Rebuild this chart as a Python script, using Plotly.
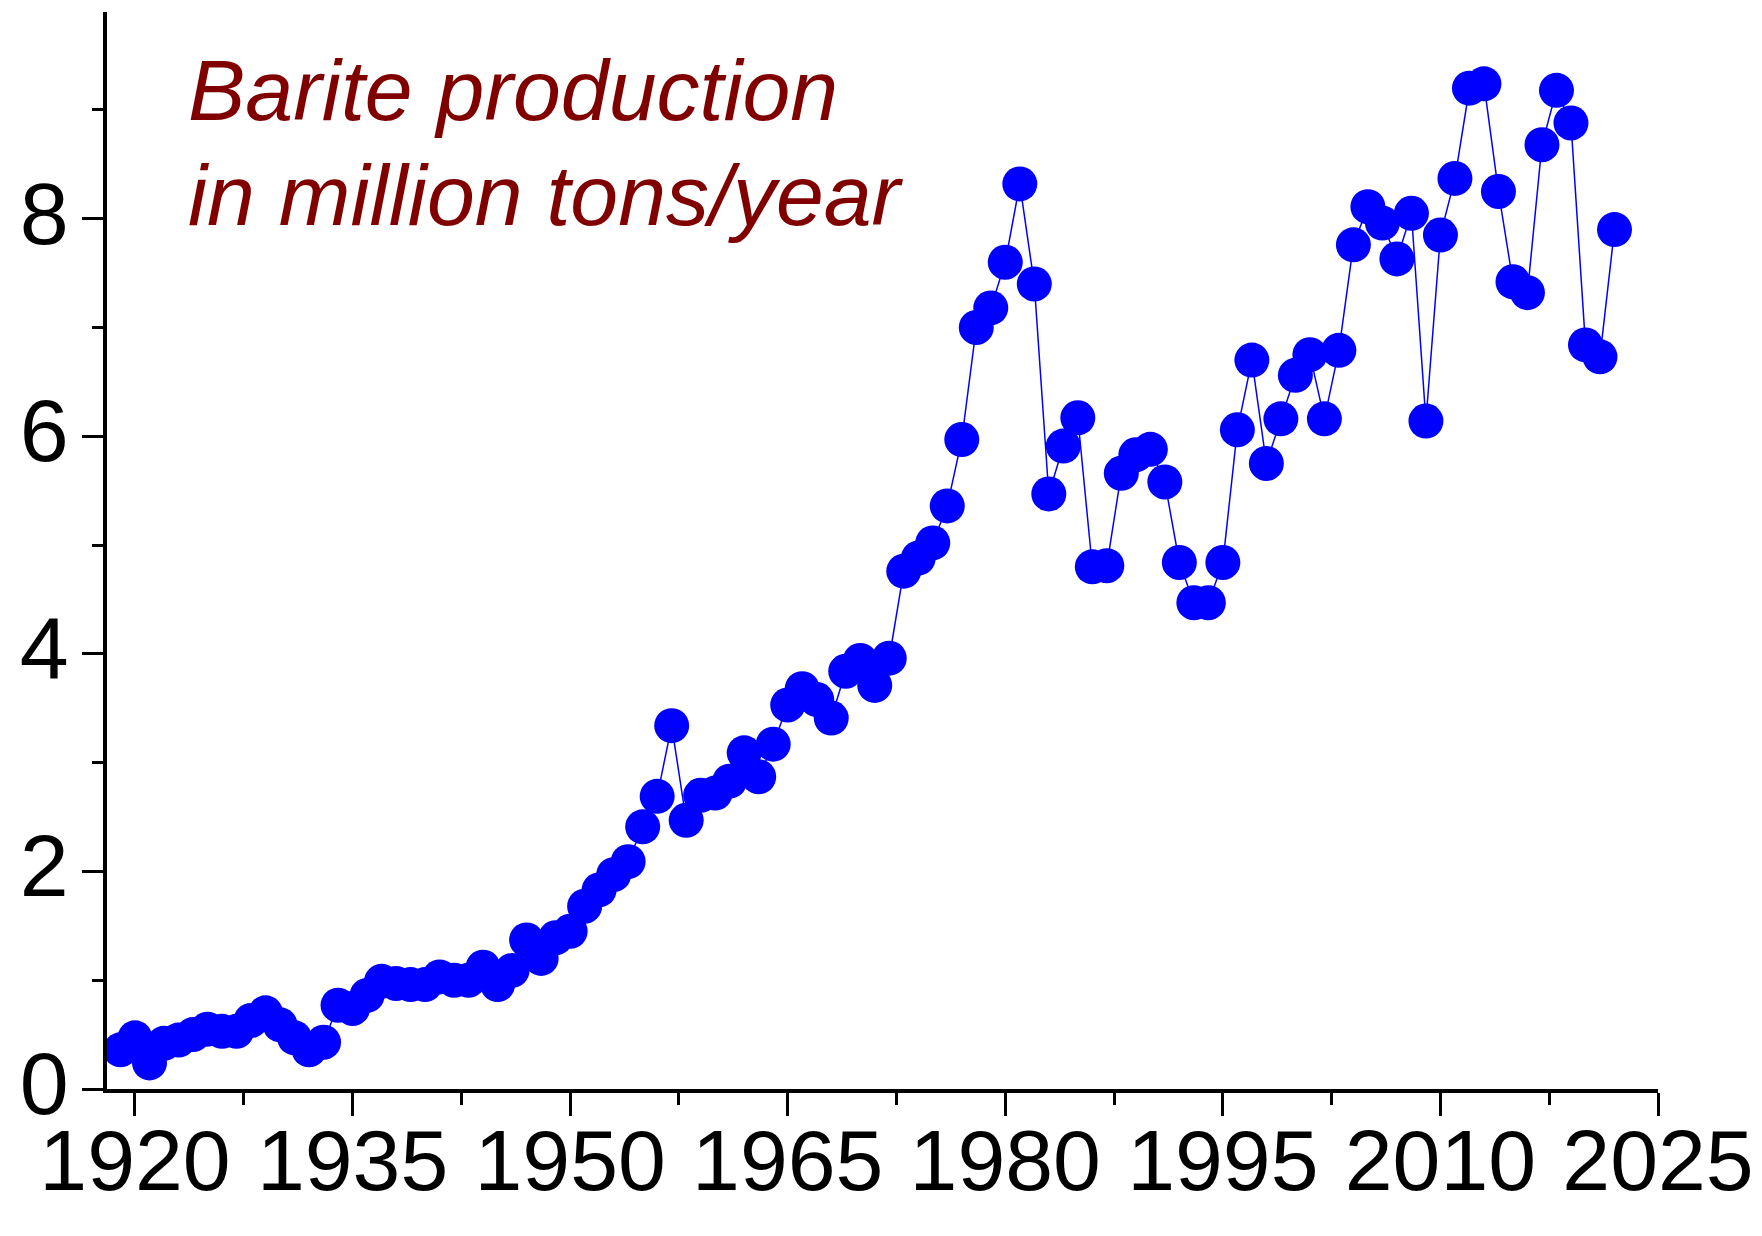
import plotly.graph_objects as go

# barite production, million tons per year
years = list(range(1919, 2023))
production = [
    0.36, 0.47, 0.24, 0.42, 0.45, 0.50, 0.55, 0.53, 0.53, 0.63,   # 1919-1928
    0.70, 0.59, 0.47, 0.36, 0.43, 0.77, 0.74, 0.86, 0.99, 0.97,   # 1929-1938
    0.96, 0.96, 1.03, 1.00, 1.00, 1.12, 0.96, 1.09, 1.37, 1.20,   # 1939-1948
    1.39, 1.45, 1.68, 1.83, 1.97, 2.09, 2.41, 2.69, 3.34, 2.47,   # 1949-1958
    2.70, 2.72, 2.83, 3.09, 2.87, 3.17, 3.53, 3.68, 3.58, 3.41,   # 1959-1968
    3.84, 3.94, 3.71, 3.96, 4.76, 4.88, 5.02, 5.36, 5.97, 7.00,   # 1969-1978
    7.18, 7.60, 8.32, 7.40, 5.47, 5.91, 6.17, 4.80, 4.81, 5.66,   # 1979-1988
    5.83, 5.88, 5.58, 4.84, 4.47, 4.47, 4.84, 6.06, 6.70, 5.75,   # 1989-1998
    6.16, 6.56, 6.75, 6.16, 6.79, 7.76, 8.11, 7.96, 7.63, 8.05,   # 1999-2008
    6.14, 7.85, 8.37, 9.20, 9.24, 8.25, 7.42, 7.32, 8.68, 9.18,   # 2009-2018
    8.88, 6.84, 6.73, 7.90,                                       # 2019-2022
]

title_lines = ["Barite production", "in million tons/year"]

font = "Liberation Sans, Arial, sans-serif"

fig = go.Figure()
fig.add_trace(go.Scatter(
    x=years, y=production, mode="lines+markers",
    line=dict(color="#0000ff", width=1.5),
    marker=dict(color="#0000ff", size=35, line=dict(width=0)),
    showlegend=False,
))

fig.add_annotation(text="<i>%s</i>" % title_lines[0], xref="paper", yref="paper",
                   x=0.051, y=0.9277, xanchor="left", yanchor="middle", showarrow=False,
                   font=dict(family=font, size=86, color="#800000"))
fig.add_annotation(text="<i>%s</i>" % title_lines[1], xref="paper", yref="paper",
                   x=0.051, y=0.8297, xanchor="left", yanchor="middle", showarrow=False,
                   font=dict(family=font, size=86, color="#800000"))

fig.update_xaxes(
    range=[1918.07, 2025], tick0=1920, dtick=15,
    showline=True, linecolor="black", linewidth=3.5,
    ticks="outside", ticklen=23, tickwidth=3, tickcolor="black",
    minor=dict(ticks="outside", dtick=7.5, tick0=1920, ticklen=12, tickwidth=3, tickcolor="black"),
    showgrid=False, zeroline=False, automargin=False, ticklabelstandoff=-29,
    tickfont=dict(family=font, size=86, color="black"),
)
fig.update_yaxes(
    range=[0, 9.9], tick0=0, dtick=2,
    showline=True, linecolor="black", linewidth=3.5,
    ticks="outside", ticklen=21, tickwidth=3, tickcolor="black",
    minor=dict(ticks="outside", dtick=1, ticklen=11, tickwidth=3, tickcolor="black"),
    showgrid=False, zeroline=False, automargin=False,
    ticklabelstandoff=-4, ticklabelshift=-6,
    tickfont=dict(family=font, size=88, color="black"),
)

fig.update_layout(
    width=1762, height=1236,
    margin=dict(l=107, r=104, t=12, b=147, pad=0),
    plot_bgcolor="white", paper_bgcolor="white",
)

# page body has an 8px default margin, drop it so the figure sits at the corner
fig.write_html("out.html", config={"displayModeBar": False},
               post_script="document.body.style.margin='0px';")
